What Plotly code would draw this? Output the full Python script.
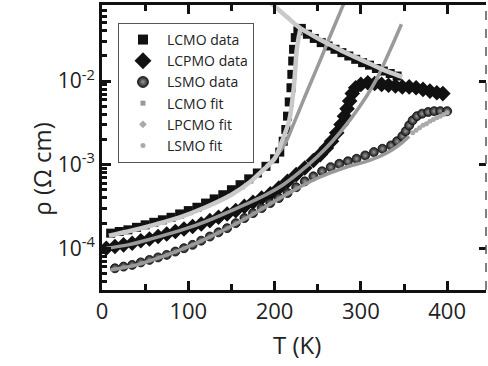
import plotly.graph_objects as go

# ---------------- data (log10 of resistivity) ----------------
lcmo_T = [10, 20, 30, 40, 50, 60, 70, 80, 90, 100, 110, 120, 130, 140, 150, 160, 170, 180, 190,
          200, 206, 210, 213, 215, 217, 219, 220, 221, 222, 224, 227, 231,
          238, 246, 254, 262, 270, 278, 286, 294, 302, 310, 318, 326, 334, 342]
lcmo_log = [-3.82, -3.80, -3.78, -3.75, -3.72, -3.69, -3.66, -3.63, -3.59, -3.55, -3.51, -3.46, -3.41,
            -3.36, -3.30, -3.24, -3.17, -3.10, -3.02, -2.93, -2.85, -2.72, -2.58, -2.42, -2.25,
            -2.08, -1.92, -1.76, -1.62, -1.48, -1.40, -1.37,
            -1.44, -1.49, -1.54, -1.58, -1.62, -1.66, -1.70, -1.74, -1.78, -1.81, -1.85, -1.88, -1.91, -1.94]

lcpmo_T = [5, 15, 25, 35, 45, 55, 65, 75, 85, 95, 105, 115, 125, 135, 145, 155, 165, 175, 185, 195,
           205, 215, 225, 235, 245, 253, 260, 266, 272, 277, 281, 284, 287, 290, 294, 300, 308,
           316, 324, 332, 340, 348, 356, 364, 372, 380, 388, 395]
lcpmo_log = [-4.00, -3.98, -3.96, -3.94, -3.91, -3.89, -3.86, -3.83, -3.80, -3.77, -3.74, -3.71,
             -3.67, -3.63, -3.59, -3.55, -3.50, -3.45, -3.40, -3.35, -3.28, -3.20, -3.12, -3.04,
             -2.95, -2.88, -2.80, -2.72, -2.62, -2.52, -2.42, -2.33, -2.24, -2.15, -2.08, -2.04,
             -2.02, -2.03, -2.04, -2.05, -2.06, -2.07, -2.07, -2.08, -2.10, -2.12, -2.14, -2.15]

lsmo_T = [15, 25, 35, 45, 55, 65, 75, 85, 95, 105, 115, 125, 135, 145, 155, 165, 175, 185, 195,
          205, 215, 225, 235, 245, 255, 265, 275, 285, 295, 305, 315, 325, 335, 342, 348, 352,
          356, 360, 365, 371, 378, 385, 392, 400]
lsmo_log = [-4.24, -4.22, -4.20, -4.17, -4.14, -4.11, -4.08, -4.04, -4.00, -3.96, -3.91, -3.86,
            -3.81, -3.76, -3.70, -3.64, -3.58, -3.52, -3.46, -3.40, -3.34, -3.27, -3.20, -3.14,
            -3.08, -3.03, -2.99, -2.96, -2.93, -2.89, -2.85, -2.81, -2.77, -2.72, -2.66, -2.60,
            -2.53, -2.47, -2.42, -2.39, -2.37, -2.36, -2.36, -2.36]

# LCMO fits (light gray): metallic branch and polaron branch
lcmo_fit_lo_T = [8, 30, 60, 90, 120, 150, 170, 185, 200, 209, 217, 221, 223, 226, 230]
lcmo_fit_lo_log = [-3.85, -3.80, -3.72, -3.63, -3.51, -3.36, -3.22, -3.08, -2.93, -2.71,
                   -2.47, -2.19, -1.99, -1.60, -1.37]
lcmo_fit_hi_T = [195, 205, 215, 225, 230, 240, 252, 265, 280, 295, 310, 325, 340, 348]
lcmo_fit_hi_log = [-1.06, -1.15, -1.24, -1.33, -1.37, -1.43, -1.50, -1.57, -1.65, -1.72,
                   -1.79, -1.86, -1.92, -1.95]
# LCMO fit extension (medium gray)
lcmo_ext_T = [190, 200, 207, 214, 221, 229, 237, 246, 255, 264, 273, 282, 290]
lcmo_ext_log = [-3.02, -2.92, -2.83, -2.71, -2.54, -2.34, -2.14, -1.92, -1.70, -1.47, -1.25,
                -1.03, -0.85]

lpcmo_fit_T = [5, 30, 60, 90, 113, 150, 190, 210, 229, 250, 267, 287, 306, 318, 333, 347]
lpcmo_fit_log = [-4.00, -3.96, -3.88, -3.79, -3.71, -3.55, -3.36, -3.24, -3.09, -2.90, -2.72,
                 -2.47, -2.19, -1.98, -1.65, -1.32]

lsmo_fit_T = [10, 40, 70, 100, 130, 160, 190, 220, 250, 280, 310, 330, 345, 356]
lsmo_fit_log = [-4.26, -4.20, -4.10, -3.98, -3.84, -3.68, -3.50, -3.32, -3.16, -3.04, -2.95,
                -2.86, -2.76, -2.66]
lsmo_dots_T = [360, 364, 368, 372, 376, 380, 384, 388, 392, 396, 400]
lsmo_dots_log = [-2.62, -2.59, -2.56, -2.53, -2.51, -2.48, -2.46, -2.44, -2.42, -2.40, -2.38]

x_ticks = [0, 100, 200, 300, 400]
y_ticks = [1e-4, 1e-3, 1e-2]
y_ticktext = ["10<sup>-4</sup>", "10<sup>-3</sup>", "10<sup>-2</sup>"]


def rho(logs):
    return [10 ** v for v in logs]


FONT = "Open Sans"
LIGHT = "#c9c9c9"
MID = "#9a9a9a"

fig = go.Figure()

# data markers
fig.add_trace(go.Scatter(x=lcmo_T, y=rho(lcmo_log), mode="markers", name="LCMO data",
                         marker=dict(symbol="square", size=9, color="#111111"), showlegend=False))
fig.add_trace(go.Scatter(x=lcpmo_T, y=rho(lcpmo_log), mode="markers", name="LCPMO data",
                         marker=dict(symbol="diamond", size=12, color="#111111"), showlegend=False))
fig.add_trace(go.Scatter(x=lsmo_T, y=rho(lsmo_log), mode="markers", name="LSMO data",
                         marker=dict(symbol="circle", size=9, color="#1a1a1a",
                                     gradient=dict(type="radial", color="#9a9a9a"),
                                     line=dict(color="#111111", width=0.8)), showlegend=False))

# fits
fig.add_trace(go.Scatter(x=lpcmo_fit_T, y=rho(lpcmo_fit_log), mode="lines",
                         line=dict(color=MID, width=3.5, shape="spline"), showlegend=False))
fig.add_trace(go.Scatter(x=lsmo_fit_T, y=rho(lsmo_fit_log), mode="lines",
                         line=dict(color=MID, width=3.5, shape="spline"), showlegend=False))
fig.add_trace(go.Scatter(x=lsmo_dots_T, y=rho(lsmo_dots_log), mode="markers",
                         marker=dict(symbol="circle", size=5, color="#aaaaaa"), showlegend=False))
fig.add_trace(go.Scatter(x=lcmo_ext_T, y=rho(lcmo_ext_log), mode="lines",
                         line=dict(color=MID, width=3.5, shape="spline"), showlegend=False))
fig.add_trace(go.Scatter(x=lcmo_fit_lo_T, y=rho(lcmo_fit_lo_log), mode="lines",
                         line=dict(color=LIGHT, width=4.5, shape="spline"), showlegend=False))
fig.add_trace(go.Scatter(x=lcmo_fit_hi_T, y=rho(lcmo_fit_hi_log), mode="lines",
                         line=dict(color=LIGHT, width=4.5, shape="spline"), showlegend=False))

# legend entries
leg = [
    ("LCMO data", dict(symbol="square", size=10, color="#111111")),
    ("LCPMO data", dict(symbol="diamond", size=13, color="#111111")),
    ("LSMO data", dict(symbol="circle", size=11, color="#1a1a1a",
                       gradient=dict(type="radial", color="#9a9a9a"),
                       line=dict(color="#111111", width=0.8))),
    ("LCMO fit", dict(symbol="square", size=5, color="#999999")),
    ("LPCMO fit", dict(symbol="diamond", size=6, color="#aaaaaa")),
    ("LSMO fit", dict(symbol="circle", size=5, color="#aaaaaa")),
]
for name, mk in leg:
    fig.add_trace(go.Scatter(x=[None], y=[None], mode="markers", name=name, marker=mk))

# dummy on right axis
fig.add_trace(go.Scatter(x=[None], y=[None], yaxis="y2", showlegend=False))

minor_vals = [m * 10 ** e for e in (-5, -4, -3, -2) for m in range(2, 10)]

fig.update_layout(
    width=488, height=366,
    margin=dict(l=102, r=2, t=5, b=76),
    paper_bgcolor="white", plot_bgcolor="white",
    font=dict(family=FONT, color="#222222"),
    xaxis=dict(range=[0, 445], tickvals=x_ticks, ticks="inside", ticklen=9, tickwidth=3,
               tickcolor="#111111", showline=True, linewidth=3, linecolor="#111111",
               mirror="ticks", showgrid=False, zeroline=False,
               tickfont=dict(size=22, family=FONT, color="#222222"),
               minor=dict(dtick=50, tick0=0, ticks="inside", ticklen=6, tickwidth=2.5,
                          tickcolor="#111111", showgrid=False)),
    yaxis=dict(type="log", range=[-4.50, -1.09], tickvals=y_ticks, ticktext=y_ticktext,
               ticks="inside", ticklen=9, tickwidth=3, tickcolor="#111111",
               showline=True, linewidth=3, linecolor="#111111", showgrid=False, zeroline=False,
               tickfont=dict(size=21, family=FONT, color="#222222"),
               minor=dict(tickvals=minor_vals, ticks="inside", ticklen=5, tickwidth=2.5,
                          tickcolor="#111111", showgrid=False)),
    yaxis2=dict(type="log", range=[-4.50, -1.09], overlaying="y", side="right",
                tickvals=y_ticks, ticks="inside", ticklen=7, tickwidth=3, tickcolor="#111111",
                showticklabels=False, showline=False, showgrid=False, zeroline=False),
    legend=dict(x=0.0416, y=0.937, xanchor="left", yanchor="top", bgcolor="white",
                bordercolor="#555555", borderwidth=1, itemwidth=38,
                font=dict(size=14, family=FONT, color="#222222"), tracegroupgap=0),
    shapes=[dict(type="line", xref="paper", yref="paper", x0=1, x1=1, y0=0, y1=1,
                 line=dict(color="#555555", width=1.5, dash="dash"))],
    annotations=[
        dict(text="T (K)", xref="paper", yref="paper", x=0.509, y=-0.19, showarrow=False,
             font=dict(size=24, family=FONT, color="#222222"), xanchor="center", yanchor="middle"),
        dict(text="ρ (Ω cm)", xref="paper", yref="paper", x=-0.157, y=0.4246, showarrow=False,
             textangle=-90, font=dict(size=24, family=FONT, color="#222222"),
             xanchor="center", yanchor="middle"),
    ],
)

fig.write_html("out.html")
